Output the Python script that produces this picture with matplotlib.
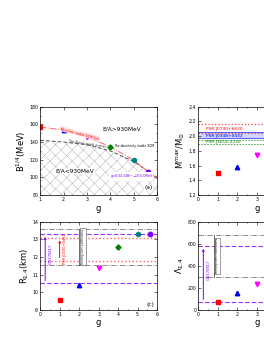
import matplotlib
matplotlib.use("Agg")
import matplotlib.pyplot as plt
from matplotlib.ticker import MultipleLocator

# panel (a): bag constant vs g
g_pts = [1, 2, 3, 4, 5, 5.63]
B_pts = [156.6, 153.6, 146.0, 134.7, 119.6, 106.4]
red_line_g = [1, 2, 3, 4, 5, 5.63, 6]
red_line_B = [157.0, 153.6, 146.0, 134.7, 119.6, 106.4, 98.5]
ud_line_g = [1, 2, 3, 4, 5, 6]
ud_line_B = [142.0, 140.0, 137.0, 130.0, 118.0, 100.0]

# panel (b): maximum mass
g_mass = [1, 2, 3]
M_max = [1.50, 1.58, 1.75]
psr_j0740 = [2.04, 2.17]
psr_j0348 = [1.97, 2.05]
psr_j1614 = [1.893, 1.947]

# panel (c): radius of 1.4 Msun star
R14 = [9.54, 10.42, 11.37, 12.55, 13.29, 13.29]
gw_R = [10.5, 13.3]
nicer_R = [11.8, 13.1]
hic_R = [11.55, 13.6]

# panel (d): tidal deformability
g_lam = [1, 2, 3]
Lam14 = [70, 151, 236]
gw_L = [70, 580]
hic_L = [300, 680]

markers = ["s", "^", "v", "D", "h", "o"]
colors = ["#ff0000", "#0000ff", "#ff00ff", "#008000", "#008080", "#8000ff"]
msizes = [3, 3.2, 3.2, 2.6, 3.2, 3.2]

plt.rcParams["hatch.linewidth"] = 0.3
fig = plt.figure(figsize=(2.64, 3.41), dpi=100)

axa = fig.add_axes([0.152, 0.428, 0.443, 0.259])
axb = fig.add_axes([0.751, 0.428, 0.443, 0.259])
axc = fig.add_axes([0.152, 0.091, 0.443, 0.259])
axd = fig.add_axes([0.751, 0.091, 0.443, 0.259])


def style(ax):
    ax.tick_params(which="both", direction="in", top=True, right=True,
                   labelsize=3.3, width=0.4, pad=1.5)
    ax.tick_params(which="major", length=2)
    ax.tick_params(which="minor", length=1)
    for s in ax.spines.values():
        s.set_linewidth(0.5)


# (a)
axa.fill_between(ud_line_g, 80, ud_line_B, facecolor="white",
                 edgecolor="#a8a8a8", hatch="xxx", linewidth=0)
axa.plot(ud_line_g, ud_line_B, ls=(0, (4, 2)), color="#555555", lw=0.7)
axa.plot(red_line_g, red_line_B, ls="-.", color="#ff6666", lw=0.7)
for i in range(len(g_pts)):
    axa.plot(g_pts[i], B_pts[i], marker=markers[i], color=colors[i],
             ms=msizes[i], ls="none")
axa.text(4.5, 155, "E/A>930MeV", fontsize=4.2, ha="center", va="center")
axa.text(2.5, 107, "E/A<930MeV", fontsize=4.2, ha="center", va="center",
         bbox=dict(fc="white", ec="none", pad=0.3))
axa.text(2.7, 149.5, "Absolute stable SQM line", fontsize=2.3, color="red",
         rotation=-15, ha="center", va="center",
         bbox=dict(fc="#ffe0e0", ec="none", pad=0.3))
axa.text(3.0, 137.5, "Two-flavor quark matter", fontsize=2.3, color="#333333",
         rotation=-9, ha="center", va="center")
axa.text(4.15, 136, "The absolutely stable SQM", fontsize=2.2, ha="left",
         va="center")
axa.text(4.9, 100.5, "g=0.0424B$^{1/4}$$-$106.5MeV", fontsize=2.3,
         color="#8000ff", ha="center", va="center",
         bbox=dict(fc="white", ec="none", pad=0.2))
axa.text(5.65, 88, "(a)", fontsize=4.2, ha="center", va="center",
         bbox=dict(fc="white", ec="none", pad=0.2))
axa.set_xlim(1, 6)
axa.set_ylim(80, 180)
axa.xaxis.set_major_locator(MultipleLocator(1))
axa.yaxis.set_major_locator(MultipleLocator(20))
axa.yaxis.set_minor_locator(MultipleLocator(10))
axa.set_xlabel("g", fontsize=6, labelpad=1)
axa.set_ylabel("B$^{1/4}$(MeV)", fontsize=6, labelpad=1)
style(axa)

# (b)
axb.axhspan(psr_j0348[0], psr_j0348[1], color="#ccd6ff", lw=0)
for y in psr_j0348:
    axb.axhline(y, color="#4040ff", lw=0.6)
for y in psr_j0740:
    axb.axhline(y, color="#ff4040", lw=0.9, ls=":")
for y in psr_j1614:
    axb.axhline(y, color="#40a040", lw=0.6, ls=(0, (2, 1.5)))
axb.text(0.4, 2.095, "PSR J0740+6620", fontsize=3.2, color="red", va="center")
axb.text(0.4, 2.005, "PSR J0348+0432", fontsize=3.2, color="blue", va="center")
axb.text(0.4, 1.92, "PSR J1614-2230", fontsize=3.2, color="green", va="center")
for i in range(len(g_mass)):
    axb.plot(g_mass[i], M_max[i], marker=markers[i], color=colors[i],
             ms=msizes[i], ls="none")
axb.set_xlim(0, 6)
axb.set_ylim(1.2, 2.4)
axb.xaxis.set_major_locator(MultipleLocator(1))
axb.xaxis.set_minor_locator(MultipleLocator(0.5))
axb.yaxis.set_major_locator(MultipleLocator(0.2))
axb.set_xlabel("g", fontsize=6, labelpad=1)
axb.set_ylabel("M$^{max}$/M$_{\\odot}$", fontsize=6, labelpad=1)
style(axb)

# (c)
for y in gw_R:
    axc.axhline(y, color="#9933ff", lw=0.8, ls=(0, (4, 2)))
for y in nicer_R:
    axc.axhline(y, color="#ff6060", lw=1.0, ls=":")
for y in hic_R:
    axc.axhline(y, color="#777777", lw=0.6, ls="-.")
for i in range(len(g_pts)):
    axc.plot(g_pts[i], R14[i], marker=markers[i], color=colors[i],
             ms=msizes[i], ls="none")
axc.annotate("", xy=(0.26, gw_R[1]), xytext=(0.26, gw_R[0]),
             arrowprops=dict(arrowstyle="-|>", color="#8000ff", lw=0.7,
                             mutation_scale=3))
axc.annotate("", xy=(1.0, nicer_R[1]), xytext=(1.0, nicer_R[0]),
             arrowprops=dict(arrowstyle="-|>", color="red", lw=0.7,
                             mutation_scale=3))
axc.plot([1.97, 1.97], [hic_R[0], hic_R[1]], color="#555555", lw=0.6)
axc.text(0.52, 12.2, "GW170817", fontsize=2.6, color="#8000ff", rotation=90,
         ha="center", va="center")
axc.text(1.3, 12.5, "PSR J0030+0451", fontsize=2.6, color="red", rotation=90,
         ha="center", va="center")
axc.text(2.2, 12.6, "heavy-ion collisions", fontsize=2.6, color="#333333",
         rotation=90, ha="center", va="center",
         bbox=dict(fc="white", ec="#555555", lw=0.4, pad=0.5))
axc.text(5.65, 9.3, "(c)", fontsize=4.2, ha="center", va="center")
axc.set_xlim(0, 6)
axc.set_ylim(9, 14)
axc.xaxis.set_major_locator(MultipleLocator(1))
axc.xaxis.set_minor_locator(MultipleLocator(0.5))
axc.yaxis.set_major_locator(MultipleLocator(1))
axc.set_xlabel("g", fontsize=6, labelpad=1)
axc.set_ylabel("R$_{1.4}$(km)", fontsize=6, labelpad=1)
style(axc)

# (d)
for y in gw_L:
    axd.axhline(y, color="#9933ff", lw=0.8, ls=(0, (4, 2)))
for y in hic_L:
    axd.axhline(y, color="#777777", lw=0.6, ls="-.")
for i in range(len(g_lam)):
    axd.plot(g_lam[i], Lam14[i], marker=markers[i], color=colors[i],
             ms=msizes[i], ls="none")
axd.annotate("", xy=(0.26, gw_L[1]), xytext=(0.26, gw_L[0]),
             arrowprops=dict(arrowstyle="-|>", color="#8000ff", lw=0.7,
                             mutation_scale=3))
axd.plot([0.8, 0.8], [hic_L[0], hic_L[1]], color="#555555", lw=0.6)
axd.text(0.55, 360, "GW170817", fontsize=2.6, color="#8000ff", rotation=90,
         ha="center", va="center")
axd.text(0.98, 490, "heavy-ion collisions", fontsize=2.6, color="#333333",
         rotation=90, ha="center", va="center",
         bbox=dict(fc="white", ec="#555555", lw=0.4, pad=0.5))
axd.set_xlim(0, 6)
axd.set_ylim(0, 800)
axd.xaxis.set_major_locator(MultipleLocator(1))
axd.xaxis.set_minor_locator(MultipleLocator(0.5))
axd.yaxis.set_major_locator(MultipleLocator(200))
axd.set_xlabel("g", fontsize=6, labelpad=1)
axd.set_ylabel("$\\Lambda_{1.4}$", fontsize=6, labelpad=1)
style(axd)

fig.savefig("out.png", dpi=100)
